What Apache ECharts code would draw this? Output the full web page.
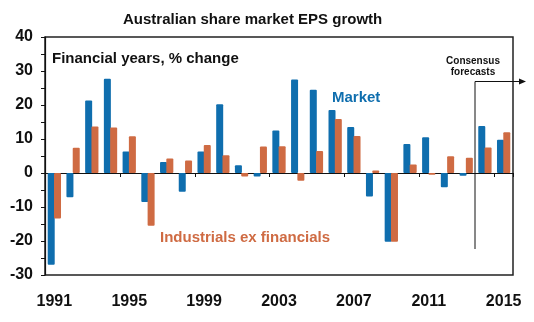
<!DOCTYPE html>
<html>
<head>
<meta charset="utf-8">
<script src="https://cdn.jsdelivr.net/npm/echarts@6/dist/echarts.min.js"></script>
<style>
html,body{margin:0;padding:0;background:#fff;}
#c{width:534px;height:322px;}
</style>
</head>
<body>
<div id="c"></div>
<script>
var years = ['1991','1992','1993','1994','1995','1996','1997','1998','1999','2000','2001','2002','2003','2004','2005','2006','2007','2008','2009','2010','2011','2012','2013','2014','2015'];
var market = [-27, -7.1, 21.3, 27.7, 6.3, -8.5, 3.2, -5.5, 6.3, 20.2, 2.3, -1.0, 12.5, 27.5, 24.5, 18.5, 13.5, -6.9, -20.2, 8.5, 10.5, -4.2, -0.8, 13.8, 9.8];
var industrials = [-13.4, 7.4, 13.7, 13.4, 10.8, -15.5, 4.3, 3.7, 8.2, 5.2, -1.0, 7.8, 7.9, -2.3, 6.5, 15.9, 10.9, 0.7, -20.2, 2.5, -0.5, 4.9, 4.5, 7.5, 12.0];
var yTicks = [-30, -20, -10, 0, 10, 20, 30, 40];

var FONT = 'Liberation Sans, Arial, sans-serif';
var chart = echarts.init(document.getElementById('c'), null, {renderer: 'canvas'});
chart.setOption({
  animation: false,
  backgroundColor: '#fff',
  title: {
    text: 'Australian share market EPS growth',
    left: 123, top: 12, padding: 0,
    textStyle: {fontFamily: FONT, fontSize: 15, fontWeight: 'bold', color: '#111'}
  },
  grid: {
    left: 45, right: 21, top: 37, bottom: 47,
    show: true, borderColor: '#222', borderWidth: 1.5, backgroundColor: 'transparent'
  },
  xAxis: [{
    type: 'category', data: years, position: 'bottom',
    axisLine: {show: false, onZero: false},
    axisTick: {show: false},
    axisLabel: {interval: 3, margin: 19, fontFamily: FONT, fontSize: 16, fontWeight: 'bold', color: '#111'}
  }, {
    type: 'category', data: years, position: 'bottom',
    axisLine: {show: true, onZero: true, lineStyle: {color: '#111', width: 1.2}},
    axisTick: {show: true, interval: 3, length: 4, lineStyle: {color: '#111'}},
    axisLabel: {show: false}
  }],
  yAxis: {
    type: 'value', min: -30, max: 40, interval: 5,
    axisLine: {show: true, lineStyle: {color: '#111', width: 1.2}},
    axisTick: {show: true, length: 4, inside: false, lineStyle: {color: '#111'}},
    splitLine: {show: false},
    axisLabel: {
      margin: 12, fontFamily: FONT, fontSize: 16, fontWeight: 'bold', color: '#111',
      formatter: function (v) { return yTicks.indexOf(v) >= 0 ? String(v) : ''; }
    }
  },
  series: [{
    name: 'Market', type: 'bar', data: market, xAxisIndex: 0,
    barWidth: 7, barGap: '-10%',
    itemStyle: {color: '#0f6eae', borderRadius: 1}
  }, {
    name: 'Industrials ex financials', type: 'bar', data: industrials, xAxisIndex: 0,
    barWidth: 7,
    itemStyle: {color: '#cf6b43', borderRadius: 1}
  }],
  graphic: [
    {type: 'text', left: 52, top: 51, style: {text: 'Financial years, % change', font: 'bold 15px ' + FONT, fill: '#111'}},
    {type: 'text', left: 332, top: 90, style: {text: 'Market', font: 'bold 15px ' + FONT, fill: '#0f6eae'}},
    {type: 'text', left: 160, top: 230, style: {text: 'Industrials ex financials', font: 'bold 15px ' + FONT, fill: '#cf6b43'}},
    {type: 'text', x: 473, y: 56, style: {text: 'Consensus\nforecasts', font: 'bold 10px ' + FONT, fill: '#111', align: 'center', lineHeight: 11}},
    {type: 'polyline', shape: {points: [[475, 249], [475, 81.5], [521, 81.5]]}, style: {stroke: '#111', lineWidth: 1, fill: null}},
    {type: 'polygon', shape: {points: [[519, 78.5], [526, 81.5], [519, 84.5]]}, style: {fill: '#111'}}
  ]
});
</script>
</body>
</html>
